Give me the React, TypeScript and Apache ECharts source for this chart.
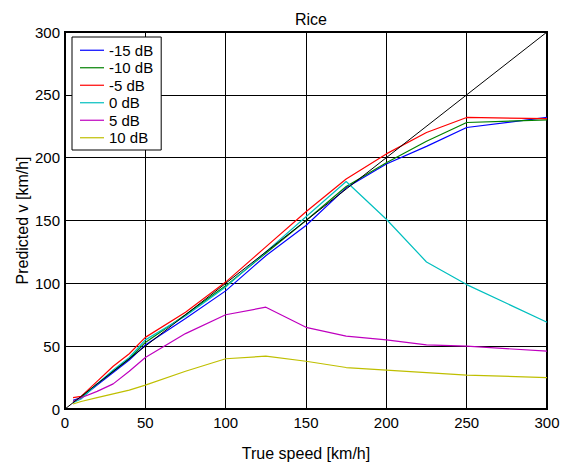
import React, { useEffect, useRef } from "react";
import * as echarts from "echarts";

const speeds = [5, 10, 20, 30, 40, 50, 75, 100, 125, 150, 175, 200, 225, 250, 300];
const seriesNames = ["-15 dB", "-10 dB", "-5 dB", "0 dB", "5 dB", "10 dB"];
const seriesColors = ["#0000ff", "#008000", "#ff0000", "#00bfbf", "#bf00bf", "#bfbf00"];
const snrM15 = [7, 9, 19, 29, 39, 51, 72, 94, 122, 146, 176, 195, 209, 224, 232];
const snrM10 = [6, 9, 20, 30, 40, 53, 75, 98, 124, 150, 177, 196, 213, 228, 230];
const snrM5 = [9, 10, 22, 34, 44, 57, 77, 101, 129, 157, 183, 203, 220, 232, 231];
const snr0 = [5, 8, 20, 31, 41, 55, 74, 97, 125, 153, 181, 151, 117, 99, 69];
const snr5 = [6, 9, 14, 20, 30, 41, 60, 75, 81, 65, 58, 55, 51, 50, 46];
const snr10 = [4, 6, 9, 12, 15, 19, 30, 40, 42, 38, 33, 31, 29, 27, 25];
const diagonal = [0, 300];
const axisTicks = [0, 50, 100, 150, 200, 250, 300];

const FONT = "'Liberation Sans', Arial, Helvetica, sans-serif";

export default function App() {
  const ref = useRef<HTMLDivElement>(null);
  useEffect(() => {
    if (!ref.current) return;
    const chart = echarts.init(ref.current, undefined, { renderer: "svg" });
    const allData = [snrM15, snrM10, snrM5, snr0, snr5, snr10];
    const series: any[] = allData.map((vals, i) => ({
      name: seriesNames[i],
      type: "line",
      data: speeds.map((s, j) => [s, vals[j]]),
      symbol: "none",
      lineStyle: { color: seriesColors[i], width: 1.2 },
      itemStyle: { color: seriesColors[i] },
    }));
    series.push({
      name: "ideal",
      type: "line",
      data: diagonal.map((d) => [d, d]),
      symbol: "none",
      lineStyle: { color: "#000", width: 1 },
      itemStyle: { color: "#000" },
    });
    chart.setOption({
      animation: false,
      backgroundColor: "#fff",
      title: {
        text: "Rice",
        left: 306,
        top: 6,
        textAlign: "center",
        textStyle: { fontFamily: FONT, fontSize: 16, fontWeight: "normal", color: "#000" },
      },
      grid: {
        left: 65,
        top: 32,
        right: 20,
        bottom: 57,
        show: true,
        borderColor: "#000",
        borderWidth: 2,
        backgroundColor: "#fff",
      },
      legend: {
        data: seriesNames,
        orient: "vertical",
        left: 72,
        top: 37,
        backgroundColor: "#fff",
        borderColor: "#000",
        borderWidth: 1,
        borderRadius: 0,
        padding: [5, 8, 4, 8],
        itemGap: 1,
        itemWidth: 24,
        itemHeight: 1.2,
        icon: "rect",
        textStyle: { fontFamily: FONT, fontSize: 15, color: "#000", lineHeight: 16.5 },
      },
      xAxis: {
        type: "value",
        min: axisTicks[0],
        max: axisTicks[axisTicks.length - 1],
        interval: 50,
        name: "True speed [km/h]",
        nameLocation: "middle",
        nameGap: 36,
        nameMoveOverlap: false,
        nameTextStyle: { fontFamily: FONT, fontSize: 16, color: "#000" },
        axisLine: { show: true, lineStyle: { color: "#000", width: 2 } },
        axisTick: { show: true, inside: true, length: 5, lineStyle: { color: "#000" } },
        axisLabel: { fontFamily: FONT, fontSize: 15, color: "#000", margin: 6 },
        splitLine: { show: true, lineStyle: { color: "#000", width: 1 } },
      },
      yAxis: {
        type: "value",
        min: axisTicks[0],
        max: axisTicks[axisTicks.length - 1],
        interval: 50,
        name: "Predicted v [km/h]",
        nameLocation: "middle",
        nameGap: 35,
        nameMoveOverlap: false,
        nameTextStyle: { fontFamily: FONT, fontSize: 16, color: "#000" },
        axisLine: { show: true, lineStyle: { color: "#000", width: 2 } },
        axisTick: { show: true, inside: true, length: 5, lineStyle: { color: "#000" } },
        axisLabel: { fontFamily: FONT, fontSize: 15, color: "#000", margin: 5 },
        splitLine: { show: true, lineStyle: { color: "#000", width: 1 } },
      },
      series,
    });
    return () => chart.dispose();
  }, []);
  return <div ref={ref} style={{ width: 567, height: 466, position: "absolute", left: 0, top: 0 }} />;
}
